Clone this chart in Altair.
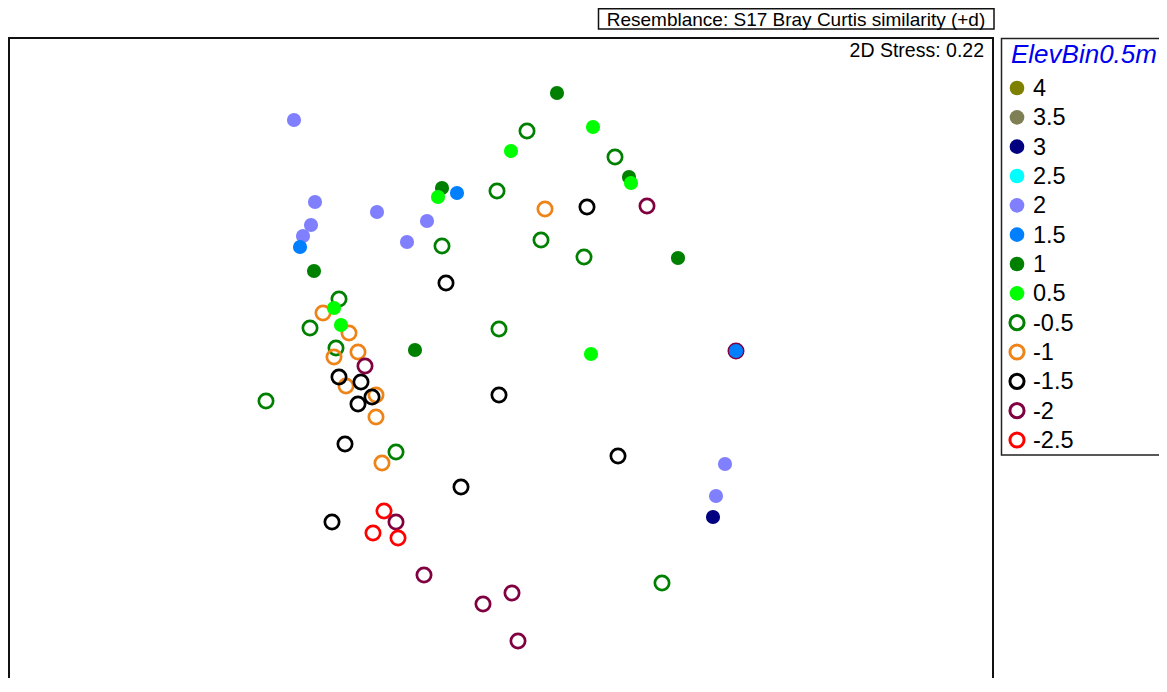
import altair as alt
import pandas as pd

# Legend categories (ElevBin0.5m), colours, and whether the symbol is filled
labels = ["4", "3.5", "3", "2.5", "2", "1.5", "1", "0.5", "-0.5", "-1", "-1.5", "-2", "-2.5"]
colors = ["#808000", "#7f7f55", "#000080", "#00FFFF", "#8080FF", "#0080FF", "#008000",
          "#00FF00", "#008000", "#EE8418", "#000000", "#800040", "#FF0000"]
filled = [True, True, True, True, True, True, True, True, False, False, False, False, False]

# nMDS coordinates (arbitrary MDS units)
mds_x = {
    "2": [-2.06, -1.85, -1.89, -1.97, -1.23, -0.73, -0.93, 2.25, 2.16],
    "1.5": [-2.00, -0.43, 2.36],
    "1": [-1.86, -0.58, 0.57, 1.29, 1.78, -0.85],
    "0.5": [-0.62, 0.11, 0.93, 1.31, -1.66, -1.59, 0.91],
    "3": [2.13],
    "-0.5": [0.27, 1.15, -0.03, 0.41, -0.58, 0.84, -1.61, -1.90, -1.64, -0.01, -2.34, -1.04, 1.62],
    "-1": [0.45, -1.77, -1.51, -1.42, -1.66, -1.54, -1.24, -1.24, -1.18],
    "-1.5": [0.87, -0.54, -1.61, -1.39, -1.28, -1.42, -0.01, -1.55, 1.18, -0.39, -1.68],
    "-2": [1.47, -1.35, -1.04, -0.76, -0.17, 0.12, 0.18, 2.36],
    "-2.5": [-1.16, -1.27, -1.02],
}
mds_y = {
    "2": [2.45, 1.63, 1.40, 1.29, 1.53, 1.44, 1.23, -0.99, -1.31],
    "1.5": [1.18, 1.72, 0.14],
    "1": [0.94, 1.77, 2.72, 1.88, 1.07, 0.15],
    "0.5": [1.68, 2.14, 2.38, 1.82, 0.57, 0.40, 0.11],
    "3": [-1.52],
    "-0.5": [2.34, 2.08, 1.74, 1.25, 1.19, 1.08, 0.66, 0.37, 0.17, 0.36, -0.36, -0.87, -2.18],
    "-1": [1.56, 0.52, 0.32, 0.13, 0.08, -0.21, -0.30, -0.52, -0.98],
    "-1.5": [1.58, 0.82, -0.12, -0.17, -0.32, -0.39, -0.30, -0.79, -0.91, -1.22, -1.57],
    "-2": [1.59, -0.01, -1.57, -2.10, -2.39, -2.28, -2.76, 0.14],
    "-2.5": [-1.46, -1.68, -1.73],
}

title_text = "Resemblance: S17 Bray Curtis similarity (+d)"
stress_text = "2D Stress: 0.22"
legend_title = "ElevBin0.5m"

FONT = "Liberation Sans"

rows = []
for lab, fl in zip(labels, filled):
    if lab in mds_x:
        for xv, yv in zip(mds_x[lab], mds_y[lab]):
            rows.append({"x": xv, "y": yv, "bin": lab, "filled": fl,
                         "order": labels.index(lab)})
df = pd.DataFrame(rows)
df_open = df[~df["filled"]].copy()
df_fill = df[df["filled"]].copy()

leg = pd.DataFrame({"bin": labels, "row": list(range(len(labels))), "filled": filled})

color_scale = alt.Scale(domain=labels, range=colors)
xs = alt.Scale(domain=[-4.91, 4.93], range=[1, 985], nice=False, zero=False)
ys = alt.Scale(domain=[-3.13, 3.27], range=[670, 30], nice=False, zero=False)
rs = alt.Scale(domain=[0, 12], range=[80, 432], nice=False, zero=False)

X = alt.X("x:Q", scale=xs, axis=None)
Y = alt.Y("y:Q", scale=ys, axis=None)
C = alt.Color("bin:N", scale=color_scale, legend=None)

rings = alt.Chart(df_open).mark_point(shape="circle", filled=False, size=205,
                                      strokeWidth=2.7, opacity=1).encode(
    x=X, y=Y, color=C, order=alt.Order("order:Q"))
dots = alt.Chart(df_fill).mark_circle(size=200, opacity=1).encode(
    x=X, y=Y, color=C, order=alt.Order("order:Q"))
main = alt.layer(rings, dots)

leg_fill = alt.Chart(leg[leg["filled"]]).mark_circle(size=215, opacity=1).encode(
    x=alt.value(1009), y=alt.Y("row:Q", scale=rs, axis=None), color=C)
leg_open = alt.Chart(leg[~leg["filled"]]).mark_point(shape="circle", filled=False, size=200,
                                                     strokeWidth=3, opacity=1).encode(
    x=alt.value(1009), y=alt.Y("row:Q", scale=rs, axis=None), color=C)
leg_text = alt.Chart(leg).mark_text(align="left", baseline="middle", font=FONT,
                                    fontSize=23.5, color="black", dy=1).encode(
    x=alt.value(1025), y=alt.Y("row:Q", scale=rs, axis=None), text="bin:N")
legend = alt.layer(leg_fill, leg_open, leg_text)

one = pd.DataFrame({"k": [0]})
frame = alt.Chart(one).mark_rect(fillOpacity=0, stroke="#111111", strokeWidth=2).encode(
    x=alt.value(1), x2=alt.value(985), y=alt.value(30), y2=alt.value(720))
leg_box = alt.Chart(one).mark_rect(fillOpacity=0, stroke="#222222", strokeWidth=1.5).encode(
    x=alt.value(993.5), x2=alt.value(1180), y=alt.value(30.5), y2=alt.value(447))
title_box = alt.Chart(one).mark_rect(fillOpacity=0, stroke="#111111", strokeWidth=1.5).encode(
    x=alt.value(590.5), x2=alt.value(986), y=alt.value(0.75), y2=alt.value(21))
title = alt.Chart(one).mark_text(align="center", baseline="middle", font=FONT,
                                 fontSize=19, color="black").encode(
    x=alt.value(788), y=alt.value(11.5), text=alt.value(title_text))
stress = alt.Chart(one).mark_text(align="right", baseline="alphabetic", font=FONT,
                                  fontSize=19.5, color="black").encode(
    x=alt.value(976), y=alt.value(49), text=alt.value(stress_text))
leg_title = alt.Chart(one).mark_text(align="left", baseline="alphabetic", font=FONT,
                                     fontSize=26, fontStyle="italic", color="#0000EE").encode(
    x=alt.value(1003), y=alt.value(55), text=alt.value(legend_title))

chart = alt.layer(
    frame, leg_box, title_box, title, stress, leg_title, main, legend
).resolve_scale(y="independent").properties(
    width=1151, height=670, padding=0,
    autosize=alt.AutoSizeParams(type="none"),
    background="white",
).configure_view(strokeWidth=0)

chart.save("out.html", embed_options={"renderer": "svg", "actions": False})
